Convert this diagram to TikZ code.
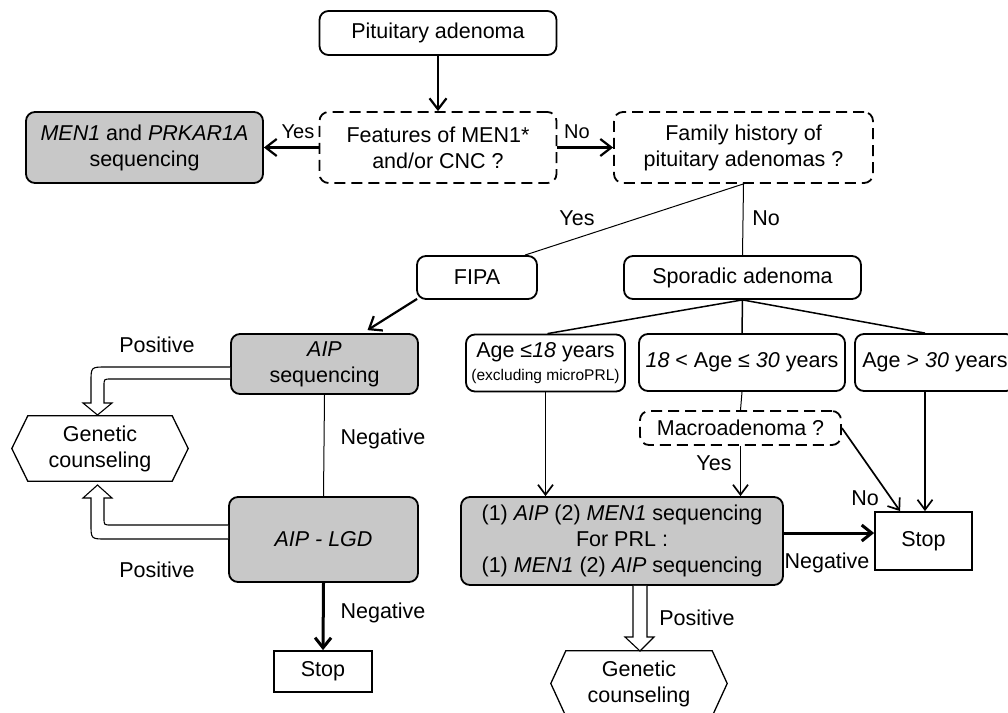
\documentclass[tikz,border=0pt]{standalone}
\usepackage{fontspec}
\setmainfont{Liberation Sans}
\usetikzlibrary{arrows.meta,calc}
\definecolor{boxgray}{RGB}{200,200,200}
\begin{document}
\begin{tikzpicture}[x=1pt,y=-1pt,
  every node/.style={font=\fontsize{21.5}{26}\selectfont, inner sep=0pt, align=center},
  rbox/.style={draw, line width=1.8pt, rounded corners=9pt},
  dbox/.style={rbox, dash pattern=on 11pt off 6pt},
  gbox/.style={rbox, fill=boxgray},
  sbox/.style={draw, line width=1.8pt},
  lab/.style={font=\fontsize{21.5}{25}\selectfont},
  slab/.style={font=\fontsize{20}{23}\selectfont},
  arr/.style={line width=2.2pt, -{Straight Barb[length=11pt,width=17pt]}},
  tarr/.style={line width=1.7pt, -{Straight Barb[length=10pt,width=15pt]}},
  karr/.style={line width=3pt, -{Straight Barb[length=10pt,width=16pt]}},
  thinline/.style={line width=1pt},
  midline/.style={line width=1.5pt},
  hollow/.style={draw, line width=1.1pt, fill=white},
  hexa/.style={line width=1.3pt}
]
\path[use as bounding box, clip] (0,0) rectangle (1008,712);
\fill[white] (0,0) rectangle (1008,712);

% nodes
\node[rbox, minimum width=237, minimum height=44] (pit) at (438,33) {Pituitary adenoma};
\node[dbox, minimum width=237, minimum height=71] (feat) at (438,147.5) {Features of MEN1*\\and/or CNC ?};
\node[gbox, minimum width=237, minimum height=71] (men) at (144.5,147.5) {\textit{MEN1} and \textit{PRKAR1A}\\sequencing};
\node[dbox, minimum width=259, minimum height=71] (fam) at (743.5,147.5) {Family history of\\pituitary adenomas ?};
\node[rbox, minimum width=120, minimum height=43] (fipa) at (477,277.5) {FIPA};
\node[rbox, minimum width=237, minimum height=43] (spor) at (742.5,277.5) {Sporadic adenoma};
\node[rbox, minimum width=159, minimum height=57] (age1) at (545.5,363) {Age ≤\textit{18} years\\[-3pt]{\fontsize{15.5}{17}\selectfont(excluding microPRL)}};
\node[rbox, minimum width=206, minimum height=57] (age2) at (742,362.5) {\textit{18} < Age ≤ \textit{30} years};
\node[rbox, minimum width=160, minimum height=57] (age3) at (935,362.5) {Age > \textit{30} years};
\node[dbox, minimum width=201, minimum height=34] (macro) at (740.5,428) {Macroadenoma ?};
\node[gbox, minimum width=322, minimum height=88] (seq) at (622,541) {(1) \textit{AIP} (2) \textit{MEN1} sequencing\\For PRL :\\(1) \textit{MEN1} (2) \textit{AIP} sequencing};
\node[sbox, minimum width=97, minimum height=58] (stop2) at (923.5,541) {Stop};
\node[gbox, minimum width=187, minimum height=60] (aipseq) at (324.5,364) {\textit{AIP}\\sequencing};
\node[gbox, minimum width=189, minimum height=85] (lgd) at (323.5,539.5) {\textit{AIP - LGD}};
\node[sbox, minimum width=98, minimum height=41] (stop1) at (323,671.5) {Stop};
\node[minimum width=176, minimum height=65] (gc1) at (100,448.5) {Genetic\\counseling};
\node[minimum width=176, minimum height=65] (gc2) at (639,683.5) {Genetic\\counseling};

% hexagons
\draw[hexa] ($(gc1.north west)+(16,0)$) -- ($(gc1.north east)+(-16,0)$) -- (gc1.east) -- ($(gc1.south east)+(-16,0)$) -- ($(gc1.south west)+(16,0)$) -- (gc1.west) -- cycle;
\draw[hexa] ($(gc2.north west)+(15,0)$) -- ($(gc2.north east)+(-15,0)$) -- (gc2.east) -- ($(gc2.south east)+(-15,0)$) -- ($(gc2.south west)+(15,0)$) -- (gc2.west) -- cycle;

% connectors
\draw[arr] (pit) -- (feat);
\draw[arr] (feat.west) -- (men.east);
\node[slab] at (298,132) {Yes};
\draw[arr] (feat.east) -- (fam.west);
\node[slab] at (577,132) {No};
\draw[thinline] (fam.south) -- ($(fipa.north east)+(-13,0)$);
\draw[thinline] (fam.south) -- (spor.north);
\node[lab] at (577,218) {Yes};
\node[lab] at (766,218) {No};
\draw[arr] ($(fipa.south west)+(1,-1)$) -- ($(aipseq.north)+(43,-3)$);

\draw[midline] (spor.south) -- ($(age1.north)+(2,0)$);
\draw[midline] (spor.south) -- (age2.north);
\draw[midline] (spor.south) -- ($(age3.north)+(-10,0)$);
\draw[thinline] (age2.south) -- (macro.north);
\draw[tarr] (age1.south) -- (age1.south |- seq.north);
\draw[tarr] (macro.south) -- (macro.south |- seq.north);
\node[lab] at (714,463) {Yes};
\draw[tarr] (macro.east) -- ($(stop2.north west)+(26,0)$);
\node[lab] at (865,498) {No};
\draw[tarr] ($(age3.south)+(-10,0)$) -- ($(stop2.north)+(1.5,0)$);
\draw[karr] ($(seq.east)+(0,-8)$) -- ($(stop2.west)+(0,-8)$);
\node[lab] at (827,563) {Negative};

\draw[hollow] ($(seq.south)+(11,0)$) -- (633,637) -- (625,637) -- (640,651) -- (654,637) -- (647,637) -- ($(seq.south)+(25,0)$);
\node[lab] at (697,618) {Positive};

\draw[thinline] (aipseq.south) -- (lgd.north);
\node[lab] at (383,439) {Negative};
\draw[karr] (lgd.south) -- (stop1.north);
\node[lab] at (383,613) {Negative};

\draw[hollow] ($(aipseq.west)+(0,3)$) -- (106,367) .. controls (91,367) .. (91,382) -- (91,403) -- (83,403) -- (97.5,415) -- (112,403) -- (104,403) -- (104,386) .. controls (104,379) .. (111,379) -- ($(aipseq.west)+(0,15)$);
\node[lab] at (157,345) {Positive};
\draw[hollow] ($(lgd.west)+(0,-14.5)$) -- (111,525) .. controls (104,525) .. (104,518) -- (104,498) -- (112,498) -- (97.5,485) -- (83,498) -- (91,498) -- (91,524) .. controls (91,539) .. (106,539) -- ($(lgd.west)+(0,-0.5)$);
\node[lab] at (157,570) {Positive};
\end{tikzpicture}
\end{document}
